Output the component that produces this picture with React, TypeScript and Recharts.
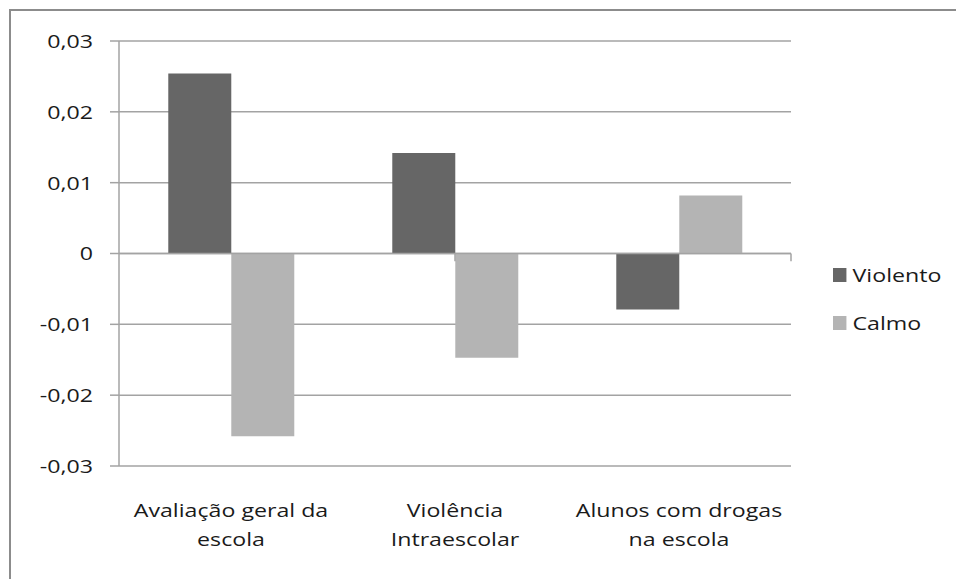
import { BarChart, Bar, XAxis, YAxis, CartesianGrid, ReferenceLine } from "recharts";

const categories = ["Avaliação geral da\nescola", "Violência\nIntraescolar", "Alunos com drogas\nna escola"];
const violento = [0.0254, 0.0142, -0.0079];
const calmo = [-0.0258, -0.0147, 0.0082];
const yTicks = [-0.03, -0.02, -0.01, 0, 0.01, 0.02, 0.03];

const seriesNames = ["Violento", "Calmo"];
const seriesColors = ["#666666", "#b4b4b4"];

const data = categories.map((c, i) => ({ name: c, Violento: violento[i], Calmo: calmo[i] }));

const FONT = "'Open Sans', 'Noto Sans', sans-serif";
const AXIS = "#a3a3a3";
const TEXT = "#1a1a1a";
const STRETCH = 1.22; // reference text is stretched horizontally

function fmt(v: number) {
  if (v === 0) return "0";
  return v.toFixed(2).replace(".", ",");
}

function CategoryTick(props: any) {
  const { x, y, payload } = props;
  const lines = String(payload.value).split("\n");
  return (
    <text
      transform={`translate(${x},${y}) scale(${STRETCH},1)`}
      textAnchor="middle"
      fill={TEXT}
      fontSize={19}
      fontFamily={FONT}
    >
      {lines.map((l, i) => (
        <tspan key={i} x={0} dy={i === 0 ? 51 : 29}>
          {l}
        </tspan>
      ))}
    </text>
  );
}

function ValueTick(props: any) {
  const { x, y, payload } = props;
  return (
    <text
      transform={`translate(${x},${y}) scale(${STRETCH},1)`}
      textAnchor="end"
      dy="0.36em"
      fill={TEXT}
      fontSize={19}
      fontFamily={FONT}
    >
      {fmt(payload.value)}
    </text>
  );
}

function LegendBox() {
  return (
    <div
      style={{
        position: "absolute",
        left: 822,
        top: 240,
        fontFamily: FONT,
        fontSize: 19,
        color: TEXT,
        transform: `scale(${STRETCH},1)`,
        transformOrigin: "left top",
      }}
    >
      {seriesNames.map((n, i) => (
        <div key={n} style={{ display: "flex", alignItems: "center", height: 48 }}>
          <span
            style={{
              width: 11,
              height: 14,
              background: seriesColors[i],
              marginRight: 5,
              display: "inline-block",
            }}
          />
          <span>{n}</span>
        </div>
      ))}
    </div>
  );
}

export default function App() {
  return (
    <div style={{ position: "fixed", left: 0, top: 0, width: 956, height: 579, overflow: "hidden", background: "#fff" }}>
      <div
        style={{
          position: "absolute",
          left: 9,
          top: 9,
          width: 945,
          height: 570,
          borderLeft: "2px solid #8c8c8c",
          borderTop: "2px solid #8c8c8c",
        }}
      >
        <BarChart
          width={940}
          height={565}
          data={data}
          margin={{ top: 30, right: 160, left: 48, bottom: 30 }}
          barCategoryGap="22%"
          barGap={0}
        >
          <CartesianGrid vertical={false} stroke={AXIS} strokeWidth={1.5} />
          <XAxis
            dataKey="name"
            axisLine={false}
            tickLine={false}
            height={80}
            tickSize={0}
            tickMargin={0}
            tick={<CategoryTick />}
            interval={0}
          />
          <XAxis xAxisId="bounds" type="number" domain={[0, categories.length]} hide />
          <YAxis
            domain={[-0.03, 0.03]}
            ticks={yTicks}
            width={60}
            stroke={AXIS}
            strokeWidth={1.5}
            tickSize={9}
            tickMargin={17}
            tick={<ValueTick />}
            interval={0}
          />
          <ReferenceLine y={0} stroke={AXIS} strokeWidth={1.5} />
          {categories.map((_, i) => (
            <ReferenceLine
              key={i}
              xAxisId="bounds"
              segment={[
                { x: i + 1, y: 0 },
                { x: i + 1, y: -0.0011 },
              ]}
              stroke={AXIS}
              strokeWidth={1.5}
            />
          ))}
          <Bar dataKey="Violento" fill={seriesColors[0]} isAnimationActive={false} />
          <Bar dataKey="Calmo" fill={seriesColors[1]} isAnimationActive={false} />
        </BarChart>
        <LegendBox />
      </div>
    </div>
  );
}
